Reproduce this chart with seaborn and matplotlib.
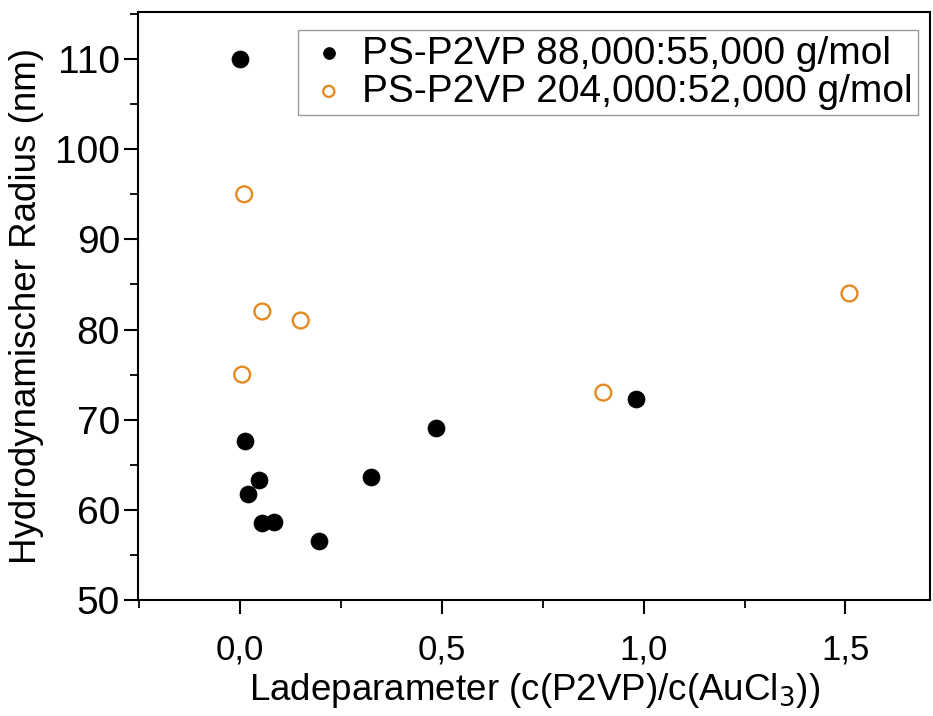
import matplotlib
matplotlib.use("Agg")
import matplotlib.pyplot as plt
import seaborn as sns
from matplotlib.ticker import MultipleLocator, FuncFormatter

# data
x_88k = [0.0, 0.012, 0.02, 0.047, 0.055, 0.085, 0.196, 0.325, 0.485, 0.98]
y_88k = [110.0, 67.6, 61.8, 63.3, 58.5, 58.6, 56.6, 63.6, 69.1, 72.3]

x_204k = [0.01, 0.005, 0.055, 0.15, 0.9, 1.51]
y_204k = [95.0, 75.0, 82.0, 81.0, 73.0, 84.0]

label_88k = "PS-P2VP 88,000:55,000 g/mol"
label_204k = "PS-P2VP 204,000:52,000 g/mol"

sns.set_style("ticks")
plt.rcParams['font.family'] = ['Liberation Sans', 'DejaVu Sans']
plt.rcParams['text.color'] = 'black'
plt.rcParams['axes.labelcolor'] = 'black'
plt.rcParams['xtick.color'] = 'black'
plt.rcParams['ytick.color'] = 'black'

fig = plt.figure(figsize=(9.33, 7.16), dpi=100)
ax = fig.add_axes([0.148, 0.162, 0.849, 0.821])

sns.scatterplot(x=x_88k, y=y_88k, ax=ax, s=150, color="black",
                edgecolor="black", linewidth=0.5, label=label_88k, zorder=3)
sns.scatterplot(x=x_204k, y=y_204k, ax=ax, s=130, facecolor="none",
                edgecolor="#E48A22", linewidth=1.7, label=label_204k, zorder=3)

ax.set_xlim(-0.253, 1.71)
ax.set_ylim(50, 115.2)
ax.xaxis.set_major_locator(MultipleLocator(0.5))
ax.xaxis.set_minor_locator(MultipleLocator(0.25))
ax.yaxis.set_major_locator(MultipleLocator(10))
ax.yaxis.set_minor_locator(MultipleLocator(5))
ax.xaxis.set_major_formatter(FuncFormatter(lambda v, p: f"{v:.1f}".replace(".", ",")))

ax.tick_params(which="major", direction="out", length=10, width=1.5, pad=5)
ax.tick_params(which="minor", direction="out", length=6, width=1.3)
ax.tick_params(axis="x", labelsize=25, pad=14)
ax.tick_params(axis="y", labelsize=28, pad=3)
for sp in ax.spines.values():
    sp.set_linewidth(1.5)
    sp.set_color("black")

ax.set_xlabel("Ladeparameter (c(P2VP)/c(AuCl$_3$))", fontsize=26.5, labelpad=3)
ax.set_ylabel("Hydrodynamischer Radius (nm)", fontsize=26.5, labelpad=8)

leg = ax.legend(loc="upper right", bbox_to_anchor=(0.985, 0.97), fontsize=28,
                frameon=True, fancybox=False, edgecolor="gray", markerscale=0.7,
                handletextpad=0.2, borderpad=0.15, labelspacing=0.05,
                handlelength=1.3, borderaxespad=0)
leg.get_frame().set_linewidth(1.0)

fig.savefig("out.png", dpi=100)
